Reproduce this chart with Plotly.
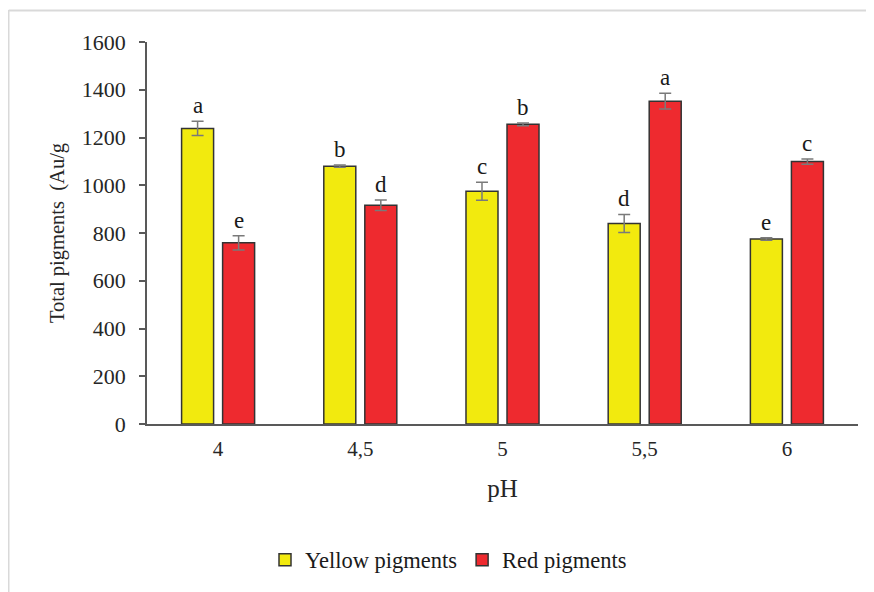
import plotly.graph_objects as go

categories = ["4", "4,5", "5", "5,5", "6"]
yellow = [1238, 1080, 975, 840, 775]
yellow_err = [30, 5, 38, 38, 5]
red = [759, 916, 1255, 1352, 1099]
red_err = [30, 22, 6, 33, 11]
yellow_letters = ["a", "b", "c", "d", "e"]
red_letters = ["e", "d", "b", "a", "c"]
y_ticks = [0, 200, 400, 600, 800, 1000, 1200, 1400, 1600]

SERIF = "Liberation Serif, Times New Roman, serif"
xs = list(range(len(categories)))
bargap = 0.423
bargroupgap = 0.22
slot = (1 - bargap) / 2
off = slot / 2

# page body has an 8px margin: convert screen pixels to figure pixels
SHIFT = 8
FW, FH = 874, 592
PL, PR, PT, PB = 147, 858, 42, 424  # plot area in screen pixels
L = PL - SHIFT
T = PT - SHIFT
R = FW - (PR - SHIFT)
B = FH - (PB - SHIFT)
W, H = PR - PL, PB - PT
px = lambda s: (s - PL) / W
py = lambda s: (PB - s) / H

fig = go.Figure()
fig.add_trace(go.Bar(
    x=xs, y=yellow, name="Yellow pigments",
    marker=dict(color="#F2EA0E", line=dict(color="#333333", width=1.5)),
    error_y=dict(type="data", array=yellow_err, color="#7a7a7a", thickness=1.5, width=6),
))
fig.add_trace(go.Bar(
    x=xs, y=red, name="Red pigments",
    marker=dict(color="#EE2A2F", line=dict(color="#333333", width=1.5)),
    error_y=dict(type="data", array=red_err, color="#7a7a7a", thickness=1.5, width=6),
))

for i in xs:
    fig.add_annotation(x=i - off, y=yellow[i] + yellow_err[i], text=yellow_letters[i],
                       showarrow=False, yanchor="bottom", yshift=1,
                       font=dict(family=SERIF, size=23, color="#1a1a1a"))
    fig.add_annotation(x=i + off, y=red[i] + red_err[i], text=red_letters[i],
                       showarrow=False, yanchor="bottom", yshift=1,
                       font=dict(family=SERIF, size=23, color="#1a1a1a"))

# outer light-gray frame lines (top and left)
fig.add_shape(type="line", xref="paper", yref="paper", x0=px(8.75), x1=px(880), y0=py(10.5), y1=py(10.5),
              line=dict(color="#d9d9d9", width=2))
fig.add_shape(type="line", xref="paper", yref="paper", x0=px(8.75), x1=px(8.75), y0=py(10), y1=py(600),
              line=dict(color="#d9d9d9", width=1.5))

fig.update_layout(
    width=FW, height=FH,
    margin=dict(l=L, r=R, t=T, b=B),
    paper_bgcolor="white", plot_bgcolor="white",
    barmode="group", bargap=bargap, bargroupgap=bargroupgap,
    font=dict(family=SERIF, color="#262626"),
    showlegend=True,
    legend=dict(orientation="h", x=px(265), xanchor="left", y=py(560), yanchor="middle",
                font=dict(family=SERIF, size=22.5, color="#1a1a1a"), itemwidth=30,
                traceorder="normal"),
    xaxis=dict(range=[-0.5, 4.5], tickvals=xs, ticktext=categories,
               showline=True, linecolor="#595959", linewidth=1.5, ticks="",
               showgrid=False, zeroline=False, ticklabelstandoff=5,
               tickfont=dict(family=SERIF, size=21, color="#262626"),
               title=dict(text="pH", font=dict(family=SERIF, size=25, color="#262626"), standoff=20)),
    yaxis=dict(range=[0, 1600], tickvals=y_ticks,
               showline=True, linecolor="#595959", linewidth=1.5, ticks="outside",
               ticklen=6, tickcolor="#595959", tickwidth=1.5,
               showgrid=False, zeroline=False, ticklabelstandoff=9,
               tickfont=dict(family=SERIF, size=22, color="#262626"),
               title=dict(text="Total pigments  (Au/g", font=dict(family=SERIF, size=20.5, color="#262626"),
                          standoff=12)),
)

fig.write_html("out.html")
